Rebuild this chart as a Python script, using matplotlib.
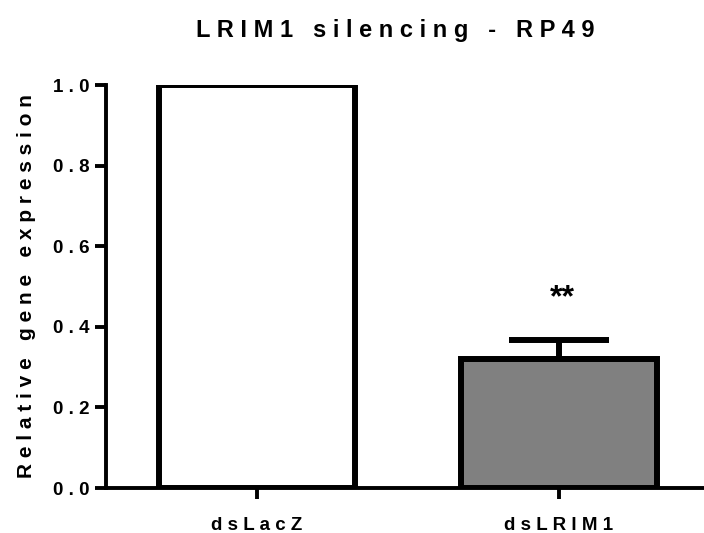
import matplotlib
matplotlib.use("Agg")
import matplotlib.pyplot as plt

plt.rcParams.update({'font.family': 'Liberation Sans', 'font.weight': 'bold',
                     'axes.labelweight': 'bold'})

groups = ['dsLacZ', 'dsLRIM1']
means = [1.0, 0.32]
sem_up = [0.0, 0.048]
colors = ['white', '#808080']
yticks = [0.0, 0.2, 0.4, 0.6, 0.8, 1.0]


def spaced(s, gap=' '):
    # Prism-style letter tracking: pad every character
    return gap.join(s)


fig = plt.figure(figsize=(7.04, 5.33), dpi=100)
ax = fig.add_axes([0.1506, 0.0844, 0.8494, 0.7561])

x = list(range(len(groups)))
ax.bar(x, means, width=0.65, color=colors, edgecolor='black', linewidth=4.3,
       zorder=2)
ax.errorbar(x[1], means[1], yerr=[[0], [sem_up[1]]], fmt='none', ecolor='black',
            elinewidth=4.3, capsize=36, capthick=4.3, zorder=1)
ax.text(x[1] + 0.01, means[1] + sem_up[1] + 0.103, '**', ha='center',
        va='center', fontsize=23, fontweight='bold')

ax.set_xlim(-0.5, 1.48)
ax.set_ylim(0, 1.0)
ax.set_yticks(yticks)
ax.set_yticklabels([spaced(f'{v:.1f}') for v in yticks], fontsize=13.5)
ax.set_xticks(x)
ax.set_xticklabels([spaced(g) for g in groups], fontsize=13.5)
ax.tick_params(axis='both', width=2.8, length=8, direction='out', pad=4)
ax.tick_params(axis='x', pad=13)

for side in ['top', 'right']:
    ax.spines[side].set_visible(False)
for side in ['left', 'bottom']:
    ax.spines[side].set_linewidth(2.8)

ax.set_ylabel(spaced('Relative gene expression'), fontsize=15, labelpad=12)
fig.text(0.562, 0.943, spaced('LRIM1 silencing - RP49'), ha='center',
         va='center', fontsize=17, fontweight='bold')

fig.savefig('out.png', dpi=100)
